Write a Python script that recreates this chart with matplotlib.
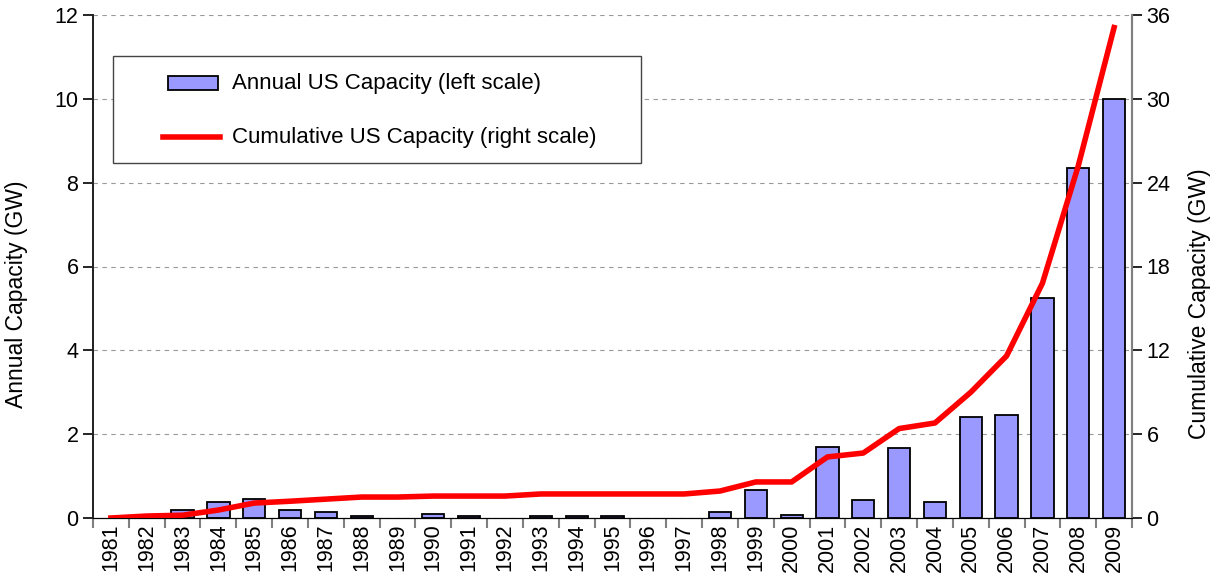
import matplotlib
matplotlib.use("Agg")
import matplotlib.pyplot as plt
from matplotlib.lines import Line2D
from matplotlib.patches import Rectangle

years = [str(y) for y in range(1981, 2010)]
annual_gw = [0.0, 0.0, 0.2, 0.38, 0.45, 0.2, 0.15, 0.05, 0.0, 0.1,
             0.05, 0.0, 0.05, 0.05, 0.05, 0.0, 0.0, 0.15, 0.67, 0.07,
             1.7, 0.42, 1.67, 0.39, 2.4, 2.45, 5.25, 8.35, 10.0]
cumulative_gw = [0.0, 0.14, 0.2, 0.57, 1.07, 1.2, 1.35, 1.5, 1.5, 1.57,
                 1.57, 1.57, 1.72, 1.72, 1.72, 1.72, 1.72, 1.93, 2.58, 2.58,
                 4.37, 4.65, 6.4, 6.8, 9.0, 11.6, 16.8, 25.2, 35.1]
legend_labels = ['Annual US Capacity (left scale)', 'Cumulative US Capacity (right scale)']

plt.rcParams['font.family'] = ['Liberation Sans', 'DejaVu Sans']
W, H = 1217, 579

fig = plt.figure(figsize=(W / 100, H / 100), dpi=100)
ax = fig.add_axes([93 / W, 1 - 518 / H, 1039 / W, 503 / H])
ax2 = ax.twinx()

x = list(range(len(years)))
edge_w = [1.3 if v > 0 else 0 for v in annual_gw]
ax.bar(x, annual_gw, width=0.62, color='#9999ff', edgecolor='black', linewidth=edge_w, zorder=3)
ax2.plot(x, cumulative_gw, color='red', linewidth=4, zorder=4)

ax.set_xlim(-0.5, len(years) - 0.5)
ax.set_ylim(0, 12)
ax2.set_ylim(0, 36)
ax.set_yticks(range(0, 13, 2))
ax2.set_yticks(range(0, 37, 6))

ax.set_xticks(x)
ax.set_xticklabels(years, rotation=90, fontsize=15.5)
ax.set_xticks([i - 0.5 for i in range(len(years) + 1)], minor=True)
ax.tick_params(axis='x', which='major', length=0, pad=4)
ax.tick_params(axis='x', which='minor', length=7, color='gray', width=1.5)
ax.tick_params(axis='y', labelsize=15.5, length=7, width=1.2, direction='out')
ax2.tick_params(axis='y', labelsize=15.5, length=7, width=1.2, direction='out')

ax.yaxis.grid(True, linestyle=(0, (4, 4)), color='#999999', linewidth=0.8, zorder=0)
ax.set_axisbelow(True)

for a in (ax, ax2):
    a.spines['top'].set_visible(False)
    a.spines['left'].set_color('#222222')
    a.spines['right'].set_color('gray')
    a.spines['bottom'].set_color('black')
    a.spines['left'].set_linewidth(1.3)
    a.spines['right'].set_linewidth(1.5)

ax.set_ylabel('Annual Capacity (GW)', fontsize=16.5)
ax.yaxis.set_label_coords((28 - 93) / 1039, 0.445)
ax2.set_ylabel('Cumulative Capacity (GW)', fontsize=16.5)
ax2.yaxis.set_label_coords((1188 - 93) / 1039, 0.427)

# legend box drawn by hand to match the original layout
def fx(px):
    return px / W

def fy(py):
    return 1 - py / H

fig.patches.append(Rectangle((fx(113), fy(163)), fx(641) - fx(113), fy(56) - fy(163),
                             transform=fig.transFigure, facecolor='white',
                             edgecolor='#444444', linewidth=1, zorder=10))
fig.patches.append(Rectangle((fx(168), fy(90)), fx(218) - fx(168), fy(76) - fy(90),
                             transform=fig.transFigure, facecolor='#9999ff',
                             edgecolor='black', linewidth=1.3, zorder=11))
fig.lines.append(Line2D([fx(163), fx(220)], [fy(137), fy(137)], transform=fig.transFigure,
                        color='red', linewidth=4, zorder=11))
fig.text(fx(232), fy(84), legend_labels[0], fontsize=16, va='center', ha='left', zorder=12)
fig.text(fx(232), fy(137), legend_labels[1], fontsize=16, va='center', ha='left', zorder=12)

ax2.set_zorder(ax.get_zorder() + 1)
ax2.patch.set_visible(False)

plt.savefig('out.png', dpi=100)
plt.close()
